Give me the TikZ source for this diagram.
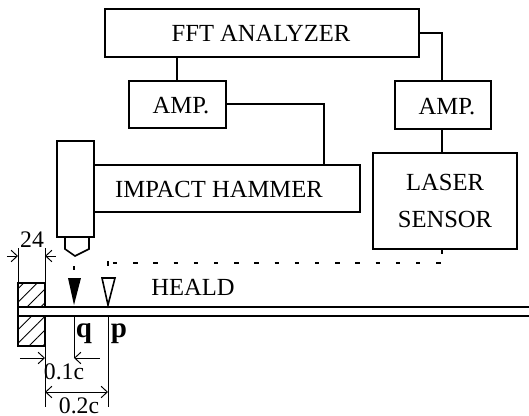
\documentclass[tikz,border=0pt]{standalone}
\usepackage{fontspec}
\usepackage{tikz}
\usetikzlibrary{arrows.meta,patterns.meta}
\setmainfont{Liberation Serif}
\tikzset{
  blockbox/.style={draw,line width=0.9pt,inner sep=0pt},
  wire/.style={line width=0.9pt},
  dimline/.style={line width=0.55pt},
  endbarb/.style={dimline,-{Straight Barb[length=3.5pt,width=6.5pt]}},
  dimtip/.style={dimline,{Straight Barb[length=3.5pt,width=6.5pt]}-{Straight Barb[length=3.5pt,width=6.5pt]}},
  hatched/.style={wire,pattern={Lines[angle=45,distance=5.5pt,line width=0.5pt]}},
  blocktext/.style={font=\fontsize{14}{16}\selectfont,inner sep=0pt},
  dimtext/.style={font=\fontsize{13.5}{15}\selectfont,inner sep=0pt},
  marktext/.style={font=\fontsize{16.5}{18}\selectfont\bfseries,inner sep=0pt},
  probedots/.style={line width=1.1pt,dash pattern=on 2.5pt off 9pt},
}
\begin{document}
\begin{tikzpicture}[x=0.02cm,y=-0.02cm]
  \useasboundingbox (0,0) rectangle (529,416);
  % blocks
  \draw[blockbox] (105,9) rectangle (419,57);
  \node[blocktext] (fft) at (261,33) {FFT ANALYZER};
  \draw[blockbox] (129,81) rectangle (226,128);
  \node[blocktext] (ampa) at (181,106) {AMP.};
  \draw[blockbox] (395,81) rectangle (491,129);
  \node[blocktext] (ampb) at (447,107) {AMP.};
  \draw[blockbox] (373,153) rectangle (517,249);
  \node[blocktext] (laser) at (445,182) {LASER};
  \node[blocktext] (sensor) at (445,219) {SENSOR};
  % hammer
  \draw[blockbox] (94,165) -- (360,165) -- (360,212) -- (94,212);
  \draw[blockbox] (57,141) rectangle (94,237);
  \node[blocktext] (hammer) at (219,189) {IMPACT HAMMER};
  \draw[wire] (65,237) -- (65,249) -- (75,256) -- (89,249) -- (89,237);
  % wires
  \draw[wire] (177,57) -- (177,81);
  \draw[wire] (226,104) -- (324,104) -- (324,165);
  \draw[wire] (419,33) -- (442,33) -- (442,81);
  \draw[wire] (442,129) -- (442,153);
  \draw[wire] (442,249) -- (442,254);
  % probes
  \draw[probedots] (113,263) -- (442,263);
  \draw[wire] (108,261) -- (108,266);
  \draw[wire] (74,266) -- (74,270);
  \fill (68,278) -- (81,278) -- (74,305) -- cycle;
  \draw[wire] (102,278) -- (115,278) -- (108,305) -- cycle;
  \node[blocktext] (heald) at (193,287) {HEALD};
  % heald and clamp
  \draw[line width=1.3pt] (18,307) -- (529,307);
  \draw[line width=1.3pt] (18,316) -- (529,316);
  \draw[hatched] (18,283) rectangle (45,307);
  \draw[hatched] (18,316) rectangle (45,346);
  \draw[wire] (18,307) -- (18,316);
  % dimensions
  \draw[dimline] (18,283) -- (18,248);
  \draw[dimline] (45,283) -- (45,248);
  \draw[endbarb] (7,256) -- (18,256);
  \draw[endbarb] (56,256) -- (45,256);
  \node[dimtext] (top) at (32,240) {24};
  \draw[dimline] (45,346) -- (45,407);
  \draw[dimline] (74,316) -- (74,358);
  \draw[dimline] (108,316) -- (108,407);
  \draw[endbarb] (20,358) -- (45,358);
  \draw[endbarb] (100,358) -- (74,358);
  \draw[dimtip] (45,392) -- (108,392);
  \node[dimtext] (dq) at (64,372) {0.1c};
  \node[dimtext] (dp) at (79,405.5) {0.2c};
  \node[marktext] (q) at (84,334) {q};
  \node[marktext] (p) at (119,334) {p};
\end{tikzpicture}
\end{document}
